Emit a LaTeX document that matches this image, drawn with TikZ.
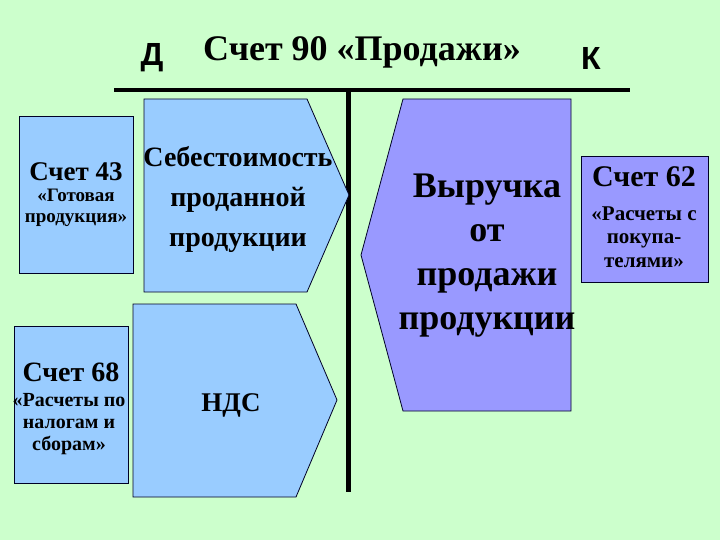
\documentclass[tikz,border=0pt]{standalone}
\usepackage{fontspec}
\setmainfont{Liberation Serif}
\newfontfamily\dkfont{Liberation Sans}
\usepackage{tikz}

\definecolor{bggreen}{HTML}{CCFFCC}
\definecolor{paleblue}{HTML}{99CCFF}
\definecolor{lilac}{HTML}{9999FF}

\tikzset{
  accbox/.style={draw=black!85!blue,line width=0.8pt,fill=paleblue,inner sep=0pt},
  accflow/.style={draw=black!85!blue,line width=0.8pt,fill=paleblue},
  bigtxt/.style={font=\bfseries\fontsize{#1}{#1}\selectfont,align=center,inner sep=0pt},
  smalltxt/.style={font=\bfseries\fontsize{#1}{1.12\dimexpr#1pt\relax}\selectfont,align=center,inner sep=0pt}
}

\begin{document}
\begin{tikzpicture}[x=1pt,y=-1pt]
  \fill[bggreen] (0,0) rectangle (720,540);
  \useasboundingbox (0,0) rectangle (720,540);

  \node[bigtxt=32,anchor=base,font=\dkfont\bfseries\fontsize{32}{32}\selectfont] (debit) at (152,66) {Д};
  \node[bigtxt=36,anchor=base] (title) at (362,61) {Счет 90 «Продажи»};
  \node[bigtxt=32,anchor=base,font=\dkfont\bfseries\fontsize{32}{32}\selectfont] (credit) at (591,70) {К};

  \coordinate (topL) at (114,90);
  \coordinate (topR) at (630,90);
  \coordinate (midT) at (348.5,90);
  \coordinate (midB) at (348.5,492);
  \draw[line width=4pt] (topL) -- (topR);
  \draw[line width=5pt] (midT) -- (midB);

  \node[accbox,minimum width=114pt,minimum height=157pt] (acc43) at (76,194.5) {};
  \node[accbox,minimum width=114pt,minimum height=157pt] (acc68) at (71,404.5) {};
  \node[accbox,fill=lilac,minimum width=127pt,minimum height=126pt] (acc62) at (644.5,219) {};

  \draw[accflow] (144,99) -- (307,99) -- (349,195) -- (307,292) -- (144,292) -- cycle;
  \draw[accflow] (133,304) -- (296,304) -- (337,400) -- (296,497) -- (133,497) -- cycle;
  \draw[accflow,fill=lilac] (571,99) -- (403,99) -- (361,255) -- (403,411) -- (571,411) -- cycle;

  \node[bigtxt=27] (name43) at (76,172) {Счет 43};
  \node[smalltxt=19] (sub43) at (76,208) {«Готовая\\продукция»};
  \node[bigtxt=28] (name68) at (71,372) {Счет 68};
  \node[smalltxt=20] (sub68) at (69,424) {«Расчеты по\\налогам и\\сборам»};
  \node[bigtxt=30] (name62) at (644,177) {Счет 62};
  \node[smalltxt=21] (sub62) at (644,237) {«Расчеты с\\покупа-\\телями»};

  \node[font=\bfseries\fontsize{28}{40}\selectfont,align=center,inner sep=0pt] (cost) at (238,200) {Себестоимость\\проданной\\продукции};
  \node[bigtxt=27] (vat) at (231,405) {НДС};
  \node[font=\bfseries\fontsize{36}{44}\selectfont,align=center,inner sep=0pt] (revenue) at (487,256) {Выручка\\от\\продажи\\продукции};
\end{tikzpicture}
\end{document}
